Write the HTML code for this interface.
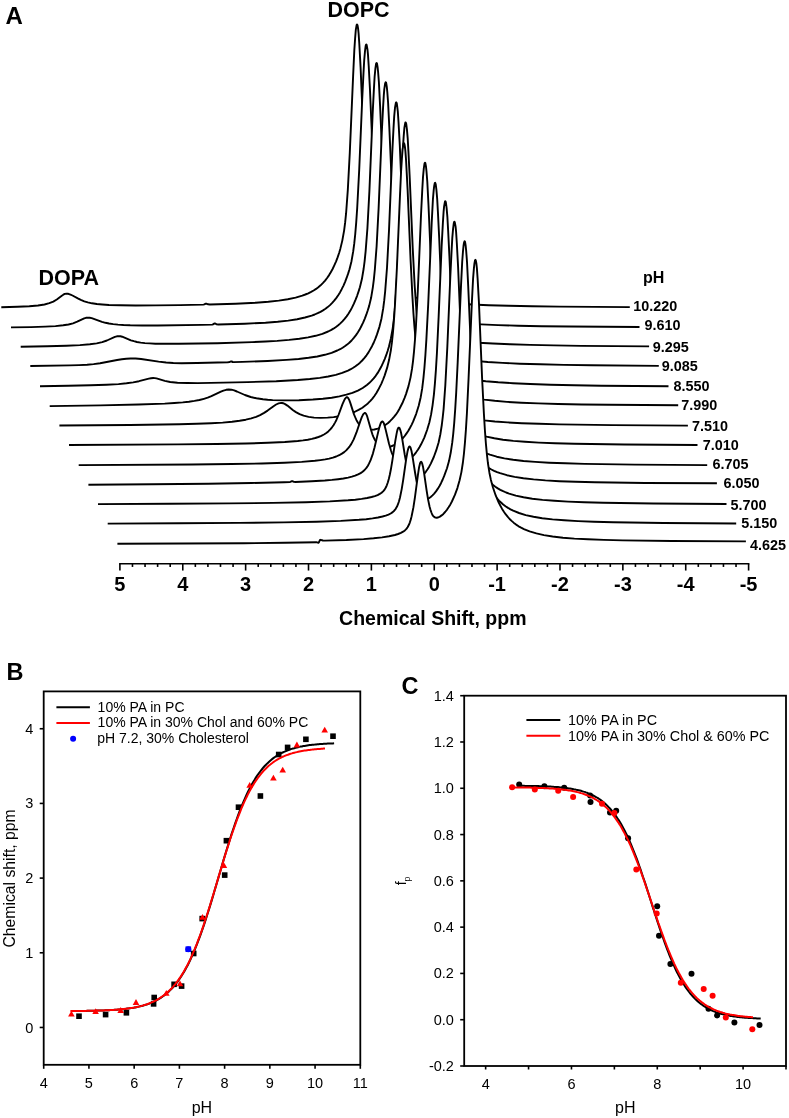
<!DOCTYPE html>
<html><head><meta charset="utf-8"><style>
html,body{margin:0;padding:0;background:#fff;width:789px;height:1118px;overflow:hidden;position:relative}
svg text{font-family:"Liberation Sans",sans-serif;fill:#000}
svg{will-change:transform}
</style></head><body>
<svg width="789" height="1118" viewBox="0 0 789 1118" style="position:absolute;left:0;top:0">
<rect width="789" height="1118" fill="#fff"/>
<path d="M1.3,308.2 L1.3,307.2 17.6,306.8 29.3,306.3 38.0,305.5 44.5,304.5 49.3,303.2 53.3,301.6 56.8,299.5 61.8,295.7 63.3,294.7 64.8,293.9 66.3,293.7 68.3,293.8 70.5,294.6 72.5,295.5 77.8,298.4 80.8,299.9 84.3,301.3 87.8,302.3 92.0,303.3 96.8,304.0 102.3,304.5 109.0,305.0 120.5,305.3 135.6,305.5 155.6,305.4 180.1,305.1 203.3,304.6 204.3,304.4 205.8,303.7 206.3,303.6 208.1,304.3 209.8,304.5 235.6,303.7 255.8,302.7 268.3,301.7 278.8,300.6 287.8,299.2 295.6,297.6 302.3,295.6 305.3,294.5 308.3,293.3 311.1,291.9 313.6,290.5 316.1,288.9 318.3,287.2 320.6,285.3 322.8,283.1 325.1,280.6 327.1,278.0 329.1,275.1 330.8,272.2 332.6,269.0 334.3,265.3 336.1,261.3 337.6,257.4 339.1,253.0 340.3,248.9 342.3,240.6 344.1,230.6 345.1,222.9 346.1,213.2 347.8,190.1 349.8,152.6 353.1,76.4 354.3,50.6 355.1,38.5 355.8,29.9 356.6,25.2 356.8,24.6 357.1,24.5 357.3,24.8 357.6,25.6 358.1,28.7 358.6,33.5 359.3,43.8 360.6,67.6 363.8,143.9 365.6,179.3 366.6,195.5 367.6,208.8 368.6,219.4 369.6,227.9 371.1,237.5 372.8,245.7 374.8,252.8 377.6,260.5 380.8,268.0 384.1,274.0 385.8,276.7 387.6,279.2 389.6,281.7 391.6,283.9 393.6,285.8 395.8,287.7 398.1,289.4 400.6,291.1 403.1,292.5 405.8,293.9 408.8,295.2 411.8,296.3 418.6,298.3 426.3,300.0 435.3,301.5 445.8,302.7 457.8,303.7 472.1,304.5 488.8,305.2 508.6,305.8 532.0,306.2 559.5,306.6 629.8,307.1 L629.8,308.2 Z" fill="#fff" stroke="none"/>
<polyline points="1.3,307.2 17.6,306.8 29.3,306.3 38.0,305.5 44.5,304.5 49.3,303.2 53.3,301.6 56.8,299.5 61.8,295.7 63.3,294.7 64.8,293.9 66.3,293.7 68.3,293.8 70.5,294.6 72.5,295.5 77.8,298.4 80.8,299.9 84.3,301.3 87.8,302.3 92.0,303.3 96.8,304.0 102.3,304.5 109.0,305.0 120.5,305.3 135.6,305.5 155.6,305.4 180.1,305.1 203.3,304.6 204.3,304.4 205.8,303.7 206.3,303.6 208.1,304.3 209.8,304.5 235.6,303.7 255.8,302.7 268.3,301.7 278.8,300.6 287.8,299.2 295.6,297.6 302.3,295.6 305.3,294.5 308.3,293.3 311.1,291.9 313.6,290.5 316.1,288.9 318.3,287.2 320.6,285.3 322.8,283.1 325.1,280.6 327.1,278.0 329.1,275.1 330.8,272.2 332.6,269.0 334.3,265.3 336.1,261.3 337.6,257.4 339.1,253.0 340.3,248.9 342.3,240.6 344.1,230.6 345.1,222.9 346.1,213.2 347.8,190.1 349.8,152.6 353.1,76.4 354.3,50.6 355.1,38.5 355.8,29.9 356.6,25.2 356.8,24.6 357.1,24.5 357.3,24.8 357.6,25.6 358.1,28.7 358.6,33.5 359.3,43.8 360.6,67.6 363.8,143.9 365.6,179.3 366.6,195.5 367.6,208.8 368.6,219.4 369.6,227.9 371.1,237.5 372.8,245.7 374.8,252.8 377.6,260.5 380.8,268.0 384.1,274.0 385.8,276.7 387.6,279.2 389.6,281.7 391.6,283.9 393.6,285.8 395.8,287.7 398.1,289.4 400.6,291.1 403.1,292.5 405.8,293.9 408.8,295.2 411.8,296.3 418.6,298.3 426.3,300.0 435.3,301.5 445.8,302.7 457.8,303.7 472.1,304.5 488.8,305.2 508.6,305.8 532.0,306.2 559.5,306.6 629.8,307.1" fill="none" stroke="#000" stroke-width="1.9" stroke-linejoin="round"/>
<path d="M11.0,327.9 L11.0,327.4 31.0,327.1 45.2,326.6 55.5,326.1 63.2,325.3 68.5,324.5 73.0,323.3 77.2,321.7 84.2,318.3 86.0,317.8 87.7,317.6 89.7,317.7 91.7,318.1 102.0,321.8 105.5,322.8 109.0,323.5 113.2,324.1 118.0,324.6 123.5,325.0 130.2,325.3 142.2,325.5 157.7,325.5 201.7,324.9 212.2,324.6 213.0,324.4 214.2,323.6 214.7,323.4 215.2,323.5 216.7,324.4 218.2,324.5 244.7,323.7 265.5,322.7 277.7,321.7 288.2,320.6 297.2,319.2 305.0,317.5 311.7,315.6 314.7,314.5 317.7,313.2 320.5,311.8 323.0,310.4 325.5,308.8 327.7,307.1 330.0,305.1 332.2,302.9 334.2,300.7 336.2,298.1 338.2,295.2 340.0,292.4 341.7,289.2 343.5,285.6 345.2,281.6 346.7,277.7 348.2,273.4 349.5,269.3 351.5,261.2 353.2,251.4 354.2,243.9 355.2,234.5 356.2,222.7 357.2,208.0 359.2,169.9 362.2,99.2 363.5,72.9 364.2,60.3 365.0,51.1 365.7,45.7 366.0,44.8 366.2,44.5 366.5,44.6 366.7,45.1 367.5,49.7 368.0,54.9 368.7,65.8 370.0,90.3 373.0,161.0 374.7,197.0 375.7,213.6 376.7,227.2 377.7,238.2 379.0,248.8 380.5,258.1 382.2,266.1 384.5,273.9 387.0,280.8 390.0,287.7 393.2,293.7 395.0,296.5 396.7,299.0 398.7,301.5 400.7,303.7 402.7,305.6 405.0,307.6 407.2,309.3 409.7,310.9 412.2,312.4 415.0,313.8 418.0,315.1 421.0,316.2 427.7,318.2 435.5,320.0 444.5,321.4 455.0,322.6 467.0,323.6 481.2,324.4 498.0,325.1 518.0,325.7 541.5,326.2 569.2,326.5 639.5,327.0 L639.5,327.9 Z" fill="#fff" stroke="none"/>
<polyline points="11.0,327.4 31.0,327.1 45.2,326.6 55.5,326.1 63.2,325.3 68.5,324.5 73.0,323.3 77.2,321.7 84.2,318.3 86.0,317.8 87.7,317.6 89.7,317.7 91.7,318.1 102.0,321.8 105.5,322.8 109.0,323.5 113.2,324.1 118.0,324.6 123.5,325.0 130.2,325.3 142.2,325.5 157.7,325.5 201.7,324.9 212.2,324.6 213.0,324.4 214.2,323.6 214.7,323.4 215.2,323.5 216.7,324.4 218.2,324.5 244.7,323.7 265.5,322.7 277.7,321.7 288.2,320.6 297.2,319.2 305.0,317.5 311.7,315.6 314.7,314.5 317.7,313.2 320.5,311.8 323.0,310.4 325.5,308.8 327.7,307.1 330.0,305.1 332.2,302.9 334.2,300.7 336.2,298.1 338.2,295.2 340.0,292.4 341.7,289.2 343.5,285.6 345.2,281.6 346.7,277.7 348.2,273.4 349.5,269.3 351.5,261.2 353.2,251.4 354.2,243.9 355.2,234.5 356.2,222.7 357.2,208.0 359.2,169.9 362.2,99.2 363.5,72.9 364.2,60.3 365.0,51.1 365.7,45.7 366.0,44.8 366.2,44.5 366.5,44.6 366.7,45.1 367.5,49.7 368.0,54.9 368.7,65.8 370.0,90.3 373.0,161.0 374.7,197.0 375.7,213.6 376.7,227.2 377.7,238.2 379.0,248.8 380.5,258.1 382.2,266.1 384.5,273.9 387.0,280.8 390.0,287.7 393.2,293.7 395.0,296.5 396.7,299.0 398.7,301.5 400.7,303.7 402.7,305.6 405.0,307.6 407.2,309.3 409.7,310.9 412.2,312.4 415.0,313.8 418.0,315.1 421.0,316.2 427.7,318.2 435.5,320.0 444.5,321.4 455.0,322.6 467.0,323.6 481.2,324.4 498.0,325.1 518.0,325.7 541.5,326.2 569.2,326.5 639.5,327.0" fill="none" stroke="#000" stroke-width="1.9" stroke-linejoin="round"/>
<path d="M20.7,347.6 L20.7,346.7 47.2,346.2 66.4,345.7 79.9,345.1 89.9,344.3 96.7,343.4 102.2,342.1 106.9,340.5 114.9,336.9 116.9,336.3 118.7,336.1 120.4,336.3 122.2,336.7 130.9,340.3 133.9,341.2 136.9,342.0 140.7,342.6 144.9,343.1 149.7,343.4 155.4,343.7 165.4,343.8 178.7,343.8 217.4,343.2 252.2,342.1 265.6,341.5 277.1,340.9 289.1,339.9 299.4,338.8 308.1,337.4 315.6,335.8 322.4,333.8 328.1,331.5 330.9,330.1 333.4,328.7 335.6,327.2 337.9,325.5 340.1,323.6 342.4,321.4 344.6,318.9 346.6,316.4 348.6,313.5 350.4,310.6 352.1,307.4 353.9,303.7 355.6,299.7 357.1,295.8 358.6,291.4 359.9,287.3 361.9,279.1 363.6,269.0 364.6,261.3 365.6,251.6 367.4,228.5 369.4,191.1 372.6,114.9 373.9,89.1 374.6,77.0 375.4,68.4 376.1,63.7 376.4,63.1 376.6,63.0 376.9,63.3 377.1,64.1 377.6,67.1 378.1,72.0 378.9,82.3 380.1,106.1 383.4,182.4 385.1,217.8 386.1,234.0 387.1,247.3 388.1,258.0 389.1,266.4 390.6,276.0 392.4,284.2 394.4,291.3 397.1,299.1 400.4,306.5 403.6,312.5 405.4,315.3 407.1,317.8 409.1,320.3 411.1,322.5 413.1,324.4 415.4,326.4 417.6,328.1 420.1,329.7 422.9,331.3 425.6,332.7 428.6,334.0 431.6,335.1 438.4,337.1 446.4,338.9 455.4,340.4 465.9,341.6 478.4,342.7 492.9,343.5 510.1,344.3 530.1,344.9 553.9,345.4 581.1,345.9 649.1,346.4 L649.1,347.6 Z" fill="#fff" stroke="none"/>
<polyline points="20.7,346.7 47.2,346.2 66.4,345.7 79.9,345.1 89.9,344.3 96.7,343.4 102.2,342.1 106.9,340.5 114.9,336.9 116.9,336.3 118.7,336.1 120.4,336.3 122.2,336.7 130.9,340.3 133.9,341.2 136.9,342.0 140.7,342.6 144.9,343.1 149.7,343.4 155.4,343.7 165.4,343.8 178.7,343.8 217.4,343.2 252.2,342.1 265.6,341.5 277.1,340.9 289.1,339.9 299.4,338.8 308.1,337.4 315.6,335.8 322.4,333.8 328.1,331.5 330.9,330.1 333.4,328.7 335.6,327.2 337.9,325.5 340.1,323.6 342.4,321.4 344.6,318.9 346.6,316.4 348.6,313.5 350.4,310.6 352.1,307.4 353.9,303.7 355.6,299.7 357.1,295.8 358.6,291.4 359.9,287.3 361.9,279.1 363.6,269.0 364.6,261.3 365.6,251.6 367.4,228.5 369.4,191.1 372.6,114.9 373.9,89.1 374.6,77.0 375.4,68.4 376.1,63.7 376.4,63.1 376.6,63.0 376.9,63.3 377.1,64.1 377.6,67.1 378.1,72.0 378.9,82.3 380.1,106.1 383.4,182.4 385.1,217.8 386.1,234.0 387.1,247.3 388.1,258.0 389.1,266.4 390.6,276.0 392.4,284.2 394.4,291.3 397.1,299.1 400.4,306.5 403.6,312.5 405.4,315.3 407.1,317.8 409.1,320.3 411.1,322.5 413.1,324.4 415.4,326.4 417.6,328.1 420.1,329.7 422.9,331.3 425.6,332.7 428.6,334.0 431.6,335.1 438.4,337.1 446.4,338.9 455.4,340.4 465.9,341.6 478.4,342.7 492.9,343.5 510.1,344.3 530.1,344.9 553.9,345.4 581.1,345.9 649.1,346.4" fill="none" stroke="#000" stroke-width="1.9" stroke-linejoin="round"/>
<path d="M30.3,367.3 L30.3,366.0 69.8,365.4 79.3,365.1 87.1,364.7 93.6,364.1 100.1,363.2 117.1,360.0 121.8,359.2 126.3,358.7 130.6,358.5 135.6,358.5 141.1,359.0 158.6,361.6 166.1,362.5 173.3,363.0 181.6,363.2 197.1,363.0 227.8,362.3 229.3,362.1 231.1,361.4 231.6,361.5 232.8,362.0 233.8,362.1 242.6,361.9 267.6,361.0 286.6,359.9 298.6,359.0 308.6,357.8 317.3,356.5 324.8,354.8 331.6,352.8 337.3,350.5 340.1,349.2 342.6,347.7 344.8,346.3 347.1,344.6 349.3,342.7 351.6,340.5 353.8,337.9 355.8,335.4 357.8,332.5 359.6,329.6 361.3,326.3 363.1,322.7 364.8,318.6 366.3,314.7 367.8,310.3 369.1,306.1 371.1,297.8 372.8,287.6 373.8,279.8 374.8,270.0 376.6,246.5 378.6,208.6 381.8,132.3 383.1,106.9 383.8,95.1 384.3,89.2 385.1,83.6 385.6,82.2 385.8,82.2 386.1,82.6 386.3,83.6 386.8,86.9 387.3,92.0 388.1,102.7 389.3,126.9 392.6,203.2 394.1,233.8 395.1,250.6 396.1,264.3 397.1,275.4 398.3,286.1 399.8,295.6 401.6,303.7 403.8,311.5 406.3,318.5 409.6,325.9 412.8,331.9 414.6,334.6 416.3,337.1 418.3,339.6 420.3,341.8 422.3,343.7 424.6,345.6 426.8,347.3 429.3,349.0 432.1,350.6 434.8,351.9 440.8,354.3 447.6,356.4 455.6,358.2 464.8,359.7 475.3,360.9 487.8,362.0 502.6,362.9 519.8,363.7 540.1,364.3 563.8,364.9 591.3,365.3 658.8,365.9 L658.8,367.3 Z" fill="#fff" stroke="none"/>
<polyline points="30.3,366.0 69.8,365.4 79.3,365.1 87.1,364.7 93.6,364.1 100.1,363.2 117.1,360.0 121.8,359.2 126.3,358.7 130.6,358.5 135.6,358.5 141.1,359.0 158.6,361.6 166.1,362.5 173.3,363.0 181.6,363.2 197.1,363.0 227.8,362.3 229.3,362.1 231.1,361.4 231.6,361.5 232.8,362.0 233.8,362.1 242.6,361.9 267.6,361.0 286.6,359.9 298.6,359.0 308.6,357.8 317.3,356.5 324.8,354.8 331.6,352.8 337.3,350.5 340.1,349.2 342.6,347.7 344.8,346.3 347.1,344.6 349.3,342.7 351.6,340.5 353.8,337.9 355.8,335.4 357.8,332.5 359.6,329.6 361.3,326.3 363.1,322.7 364.8,318.6 366.3,314.7 367.8,310.3 369.1,306.1 371.1,297.8 372.8,287.6 373.8,279.8 374.8,270.0 376.6,246.5 378.6,208.6 381.8,132.3 383.1,106.9 383.8,95.1 384.3,89.2 385.1,83.6 385.6,82.2 385.8,82.2 386.1,82.6 386.3,83.6 386.8,86.9 387.3,92.0 388.1,102.7 389.3,126.9 392.6,203.2 394.1,233.8 395.1,250.6 396.1,264.3 397.1,275.4 398.3,286.1 399.8,295.6 401.6,303.7 403.8,311.5 406.3,318.5 409.6,325.9 412.8,331.9 414.6,334.6 416.3,337.1 418.3,339.6 420.3,341.8 422.3,343.7 424.6,345.6 426.8,347.3 429.3,349.0 432.1,350.6 434.8,351.9 440.8,354.3 447.6,356.4 455.6,358.2 464.8,359.7 475.3,360.9 487.8,362.0 502.6,362.9 519.8,363.7 540.1,364.3 563.8,364.9 591.3,365.3 658.8,365.9" fill="none" stroke="#000" stroke-width="1.9" stroke-linejoin="round"/>
<path d="M40.0,387.0 L40.0,386.3 68.2,385.8 90.5,385.3 106.5,384.7 118.5,384.1 126.5,383.3 133.2,382.4 139.0,381.2 148.8,378.6 151.0,378.2 153.2,378.0 154.8,378.1 156.5,378.4 164.8,380.9 170.2,382.0 177.5,382.7 187.5,383.0 197.5,383.1 210.8,382.9 247.5,382.1 276.2,381.2 297.8,380.0 309.8,379.0 319.8,377.9 328.2,376.5 335.8,374.9 342.2,372.9 348.0,370.6 350.8,369.2 353.2,367.8 355.5,366.3 357.8,364.6 360.0,362.7 362.2,360.5 364.5,357.9 366.5,355.3 368.5,352.4 370.2,349.4 372.0,346.2 373.8,342.5 375.5,338.4 377.0,334.4 379.5,326.6 381.5,318.4 383.2,308.4 384.2,300.7 385.2,291.0 387.0,267.8 389.0,230.4 392.2,154.2 393.5,128.4 394.2,116.4 395.0,107.7 395.8,103.1 396.0,102.5 396.2,102.3 396.5,102.6 396.8,103.5 397.2,106.5 397.8,111.3 398.5,121.7 399.8,145.4 403.0,221.8 404.8,257.2 405.8,273.4 406.8,286.7 407.8,297.3 408.8,305.8 410.2,315.4 412.0,323.6 414.0,330.7 416.8,338.5 420.0,345.9 423.2,352.0 425.0,354.7 426.8,357.2 428.8,359.7 430.8,361.9 432.8,363.9 435.0,365.8 437.2,367.5 439.8,369.2 442.5,370.8 445.2,372.2 448.2,373.5 451.2,374.6 458.0,376.6 466.0,378.4 475.2,380.0 485.8,381.2 498.2,382.3 513.0,383.2 530.2,384.0 550.5,384.7 574.2,385.2 601.5,385.7 668.5,386.3 L668.5,387.0 Z" fill="#fff" stroke="none"/>
<polyline points="40.0,386.3 68.2,385.8 90.5,385.3 106.5,384.7 118.5,384.1 126.5,383.3 133.2,382.4 139.0,381.2 148.8,378.6 151.0,378.2 153.2,378.0 154.8,378.1 156.5,378.4 164.8,380.9 170.2,382.0 177.5,382.7 187.5,383.0 197.5,383.1 210.8,382.9 247.5,382.1 276.2,381.2 297.8,380.0 309.8,379.0 319.8,377.9 328.2,376.5 335.8,374.9 342.2,372.9 348.0,370.6 350.8,369.2 353.2,367.8 355.5,366.3 357.8,364.6 360.0,362.7 362.2,360.5 364.5,357.9 366.5,355.3 368.5,352.4 370.2,349.4 372.0,346.2 373.8,342.5 375.5,338.4 377.0,334.4 379.5,326.6 381.5,318.4 383.2,308.4 384.2,300.7 385.2,291.0 387.0,267.8 389.0,230.4 392.2,154.2 393.5,128.4 394.2,116.4 395.0,107.7 395.8,103.1 396.0,102.5 396.2,102.3 396.5,102.6 396.8,103.5 397.2,106.5 397.8,111.3 398.5,121.7 399.8,145.4 403.0,221.8 404.8,257.2 405.8,273.4 406.8,286.7 407.8,297.3 408.8,305.8 410.2,315.4 412.0,323.6 414.0,330.7 416.8,338.5 420.0,345.9 423.2,352.0 425.0,354.7 426.8,357.2 428.8,359.7 430.8,361.9 432.8,363.9 435.0,365.8 437.2,367.5 439.8,369.2 442.5,370.8 445.2,372.2 448.2,373.5 451.2,374.6 458.0,376.6 466.0,378.4 475.2,380.0 485.8,381.2 498.2,382.3 513.0,383.2 530.2,384.0 550.5,384.7 574.2,385.2 601.5,385.7 668.5,386.3" fill="none" stroke="#000" stroke-width="1.9" stroke-linejoin="round"/>
<path d="M49.7,406.7 L49.7,406.1 100.2,405.4 138.7,404.5 164.7,403.6 174.4,403.0 182.7,402.4 188.9,401.7 194.4,400.9 199.4,400.0 203.9,398.8 207.7,397.7 211.4,396.2 220.9,391.7 223.4,390.6 226.2,389.8 228.7,389.5 231.4,389.7 234.2,390.4 236.9,391.5 244.9,395.0 250.7,397.0 256.4,398.3 262.9,399.3 267.7,399.8 272.7,400.1 284.7,400.4 298.9,400.2 312.9,399.5 322.9,398.7 331.7,397.7 339.4,396.4 346.4,394.7 352.4,392.9 357.9,390.6 362.7,388.0 366.9,385.0 369.2,383.1 371.4,380.9 373.7,378.4 375.7,375.8 377.7,372.9 379.4,370.0 381.2,366.8 382.9,363.2 384.7,359.1 386.2,355.2 387.7,350.8 388.9,346.7 390.9,338.4 392.7,328.3 393.7,320.6 394.7,310.9 396.4,287.6 398.4,250.0 401.7,173.8 402.9,148.1 403.7,136.1 404.4,127.6 405.2,123.1 405.4,122.5 405.7,122.4 405.9,122.8 406.2,123.7 406.9,129.1 407.7,138.3 408.4,150.9 409.7,177.3 412.7,247.9 414.7,286.2 416.4,309.9 417.2,317.6 418.2,326.1 419.7,335.6 421.4,343.8 423.4,350.8 426.2,358.6 429.4,366.0 432.7,372.0 434.4,374.8 436.2,377.2 438.2,379.7 440.2,381.9 442.2,383.9 444.4,385.8 446.7,387.5 449.2,389.1 451.7,390.6 454.4,391.9 457.4,393.2 460.4,394.4 467.2,396.4 475.2,398.2 484.2,399.6 494.7,400.8 506.9,401.9 521.2,402.7 538.2,403.4 558.2,404.0 581.7,404.5 609.2,404.8 678.2,405.3 L678.2,406.7 Z" fill="#fff" stroke="none"/>
<polyline points="49.7,406.1 100.2,405.4 138.7,404.5 164.7,403.6 174.4,403.0 182.7,402.4 188.9,401.7 194.4,400.9 199.4,400.0 203.9,398.8 207.7,397.7 211.4,396.2 220.9,391.7 223.4,390.6 226.2,389.8 228.7,389.5 231.4,389.7 234.2,390.4 236.9,391.5 244.9,395.0 250.7,397.0 256.4,398.3 262.9,399.3 267.7,399.8 272.7,400.1 284.7,400.4 298.9,400.2 312.9,399.5 322.9,398.7 331.7,397.7 339.4,396.4 346.4,394.7 352.4,392.9 357.9,390.6 362.7,388.0 366.9,385.0 369.2,383.1 371.4,380.9 373.7,378.4 375.7,375.8 377.7,372.9 379.4,370.0 381.2,366.8 382.9,363.2 384.7,359.1 386.2,355.2 387.7,350.8 388.9,346.7 390.9,338.4 392.7,328.3 393.7,320.6 394.7,310.9 396.4,287.6 398.4,250.0 401.7,173.8 402.9,148.1 403.7,136.1 404.4,127.6 405.2,123.1 405.4,122.5 405.7,122.4 405.9,122.8 406.2,123.7 406.9,129.1 407.7,138.3 408.4,150.9 409.7,177.3 412.7,247.9 414.7,286.2 416.4,309.9 417.2,317.6 418.2,326.1 419.7,335.6 421.4,343.8 423.4,350.8 426.2,358.6 429.4,366.0 432.7,372.0 434.4,374.8 436.2,377.2 438.2,379.7 440.2,381.9 442.2,383.9 444.4,385.8 446.7,387.5 449.2,389.1 451.7,390.6 454.4,391.9 457.4,393.2 460.4,394.4 467.2,396.4 475.2,398.2 484.2,399.6 494.7,400.8 506.9,401.9 521.2,402.7 538.2,403.4 558.2,404.0 581.7,404.5 609.2,404.8 678.2,405.3" fill="none" stroke="#000" stroke-width="1.9" stroke-linejoin="round"/>
<path d="M59.4,426.4 L59.4,425.5 129.8,425.0 179.3,424.2 196.8,423.7 211.1,423.2 222.6,422.6 232.1,421.8 239.6,420.8 245.8,419.7 251.3,418.4 256.1,416.8 260.1,415.1 264.1,412.9 267.6,410.6 273.9,406.0 276.1,404.5 278.6,403.4 279.9,403.1 281.1,402.9 282.1,403.0 283.1,403.2 285.1,404.1 287.4,405.6 293.1,410.2 295.9,412.1 299.6,414.1 303.6,415.7 308.6,416.9 314.1,417.6 320.6,417.9 327.6,417.6 333.6,417.1 339.4,416.2 344.9,415.0 349.9,413.6 354.4,412.0 358.6,409.9 362.4,407.7 365.9,405.1 368.1,403.2 370.4,400.9 372.4,398.6 374.4,396.0 376.4,393.0 378.1,390.1 381.4,383.6 383.1,379.5 384.6,375.6 387.1,367.9 389.1,359.8 390.9,350.0 391.9,342.4 392.9,333.0 393.9,321.1 394.9,306.3 396.9,268.0 399.9,197.4 401.1,171.1 401.9,158.7 402.6,149.5 403.4,144.3 403.6,143.5 403.9,143.2 404.1,143.3 404.4,144.0 404.9,146.6 405.4,151.1 406.1,160.9 407.6,189.6 410.6,260.3 412.4,296.2 413.4,312.7 414.4,326.3 415.4,337.2 416.6,347.7 418.1,357.0 419.9,365.0 422.1,372.7 424.9,380.2 428.1,387.5 431.4,393.3 433.1,396.0 435.1,398.7 437.1,401.1 439.1,403.2 441.1,405.1 443.4,406.9 445.9,408.7 448.4,410.3 451.1,411.8 453.9,413.1 459.9,415.4 466.9,417.3 474.9,419.0 484.1,420.4 494.9,421.5 507.4,422.4 521.9,423.2 539.1,423.8 559.4,424.4 612.4,425.1 687.9,425.6 L687.9,426.4 Z" fill="#fff" stroke="none"/>
<polyline points="59.4,425.5 129.8,425.0 179.3,424.2 196.8,423.7 211.1,423.2 222.6,422.6 232.1,421.8 239.6,420.8 245.8,419.7 251.3,418.4 256.1,416.8 260.1,415.1 264.1,412.9 267.6,410.6 273.9,406.0 276.1,404.5 278.6,403.4 279.9,403.1 281.1,402.9 282.1,403.0 283.1,403.2 285.1,404.1 287.4,405.6 293.1,410.2 295.9,412.1 299.6,414.1 303.6,415.7 308.6,416.9 314.1,417.6 320.6,417.9 327.6,417.6 333.6,417.1 339.4,416.2 344.9,415.0 349.9,413.6 354.4,412.0 358.6,409.9 362.4,407.7 365.9,405.1 368.1,403.2 370.4,400.9 372.4,398.6 374.4,396.0 376.4,393.0 378.1,390.1 381.4,383.6 383.1,379.5 384.6,375.6 387.1,367.9 389.1,359.8 390.9,350.0 391.9,342.4 392.9,333.0 393.9,321.1 394.9,306.3 396.9,268.0 399.9,197.4 401.1,171.1 401.9,158.7 402.6,149.5 403.4,144.3 403.6,143.5 403.9,143.2 404.1,143.3 404.4,144.0 404.9,146.6 405.4,151.1 406.1,160.9 407.6,189.6 410.6,260.3 412.4,296.2 413.4,312.7 414.4,326.3 415.4,337.2 416.6,347.7 418.1,357.0 419.9,365.0 422.1,372.7 424.9,380.2 428.1,387.5 431.4,393.3 433.1,396.0 435.1,398.7 437.1,401.1 439.1,403.2 441.1,405.1 443.4,406.9 445.9,408.7 448.4,410.3 451.1,411.8 453.9,413.1 459.9,415.4 466.9,417.3 474.9,419.0 484.1,420.4 494.9,421.5 507.4,422.4 521.9,423.2 539.1,423.8 559.4,424.4 612.4,425.1 687.9,425.6" fill="none" stroke="#000" stroke-width="1.9" stroke-linejoin="round"/>
<path d="M69.0,446.1 L69.0,445.0 177.8,444.4 216.5,444.0 246.0,443.5 268.0,442.8 284.8,442.0 297.8,441.0 303.0,440.4 307.8,439.7 311.8,438.9 315.3,438.0 318.5,437.0 321.3,435.9 324.0,434.5 326.3,433.0 328.3,431.4 330.3,429.4 332.0,427.3 333.5,425.2 335.0,422.6 336.3,420.2 338.5,415.0 342.5,404.2 344.3,400.1 345.0,398.8 345.8,397.9 346.5,397.3 347.0,397.2 347.5,397.4 348.0,397.9 348.5,398.6 349.3,400.2 350.3,402.9 354.0,414.4 355.3,417.5 356.5,420.2 358.0,422.8 359.5,424.9 361.0,426.4 362.8,427.8 365.3,429.0 368.0,429.7 371.0,429.9 374.3,429.5 377.8,428.6 381.3,427.3 384.5,425.5 387.8,423.2 390.0,421.2 392.0,419.2 394.0,416.9 395.8,414.7 397.8,411.7 399.5,408.7 402.8,402.2 404.5,398.1 406.0,394.1 408.5,386.1 410.5,377.6 412.0,368.9 413.0,361.3 414.0,351.6 415.0,339.5 415.8,328.6 417.8,291.3 421.0,215.2 422.3,189.3 423.0,177.1 423.8,168.4 424.5,163.6 424.8,162.9 425.0,162.7 425.3,163.0 425.5,163.8 426.0,166.7 426.5,171.5 427.3,181.7 428.5,205.3 431.8,281.6 433.5,317.2 434.5,333.5 435.5,346.8 436.5,357.5 437.5,366.0 439.0,375.7 440.8,383.9 442.8,391.0 445.5,398.8 448.8,406.3 452.0,412.3 453.8,415.0 455.5,417.5 457.5,420.0 459.5,422.2 461.5,424.1 463.8,426.1 466.0,427.8 468.5,429.4 471.0,430.8 473.8,432.2 476.8,433.5 479.8,434.6 486.5,436.6 494.3,438.3 503.0,439.7 513.3,440.9 525.0,441.8 538.8,442.6 555.0,443.2 574.3,443.8 624.5,444.5 697.5,445.0 L697.5,446.1 Z" fill="#fff" stroke="none"/>
<polyline points="69.0,445.0 177.8,444.4 216.5,444.0 246.0,443.5 268.0,442.8 284.8,442.0 297.8,441.0 303.0,440.4 307.8,439.7 311.8,438.9 315.3,438.0 318.5,437.0 321.3,435.9 324.0,434.5 326.3,433.0 328.3,431.4 330.3,429.4 332.0,427.3 333.5,425.2 335.0,422.6 336.3,420.2 338.5,415.0 342.5,404.2 344.3,400.1 345.0,398.8 345.8,397.9 346.5,397.3 347.0,397.2 347.5,397.4 348.0,397.9 348.5,398.6 349.3,400.2 350.3,402.9 354.0,414.4 355.3,417.5 356.5,420.2 358.0,422.8 359.5,424.9 361.0,426.4 362.8,427.8 365.3,429.0 368.0,429.7 371.0,429.9 374.3,429.5 377.8,428.6 381.3,427.3 384.5,425.5 387.8,423.2 390.0,421.2 392.0,419.2 394.0,416.9 395.8,414.7 397.8,411.7 399.5,408.7 402.8,402.2 404.5,398.1 406.0,394.1 408.5,386.1 410.5,377.6 412.0,368.9 413.0,361.3 414.0,351.6 415.0,339.5 415.8,328.6 417.8,291.3 421.0,215.2 422.3,189.3 423.0,177.1 423.8,168.4 424.5,163.6 424.8,162.9 425.0,162.7 425.3,163.0 425.5,163.8 426.0,166.7 426.5,171.5 427.3,181.7 428.5,205.3 431.8,281.6 433.5,317.2 434.5,333.5 435.5,346.8 436.5,357.5 437.5,366.0 439.0,375.7 440.8,383.9 442.8,391.0 445.5,398.8 448.8,406.3 452.0,412.3 453.8,415.0 455.5,417.5 457.5,420.0 459.5,422.2 461.5,424.1 463.8,426.1 466.0,427.8 468.5,429.4 471.0,430.8 473.8,432.2 476.8,433.5 479.8,434.6 486.5,436.6 494.3,438.3 503.0,439.7 513.3,440.9 525.0,441.8 538.8,442.6 555.0,443.2 574.3,443.8 624.5,444.5 697.5,445.0" fill="none" stroke="#000" stroke-width="1.9" stroke-linejoin="round"/>
<path d="M78.7,465.8 L78.7,465.1 191.7,464.5 231.7,464.0 261.9,463.5 284.4,462.8 301.7,461.9 314.9,460.8 320.4,460.1 325.2,459.4 329.2,458.6 332.9,457.6 336.2,456.5 339.2,455.2 341.9,453.6 344.2,452.1 346.2,450.4 348.2,448.2 349.7,446.3 351.2,444.1 353.7,439.4 356.4,432.7 360.4,420.9 361.9,416.9 362.7,415.3 363.4,414.1 364.2,413.3 364.9,412.9 365.4,413.1 365.9,413.6 366.4,414.5 367.2,416.4 371.2,430.5 372.4,434.3 373.4,436.9 374.7,439.5 375.9,441.6 377.2,443.3 378.7,444.8 380.7,446.1 382.7,446.9 385.2,447.3 387.7,447.2 390.4,446.6 393.2,445.5 395.9,444.0 398.7,442.0 400.7,440.3 402.7,438.3 404.7,436.0 406.4,433.6 408.2,431.0 409.9,428.0 411.7,424.6 413.2,421.4 416.2,413.8 418.7,405.8 420.7,397.2 422.2,388.4 423.4,378.4 424.4,368.0 425.4,355.0 426.4,339.1 428.2,304.3 431.7,222.6 432.9,199.7 433.7,190.2 434.2,185.9 434.7,183.4 434.9,182.9 435.2,182.8 435.4,183.3 435.7,184.2 436.4,189.7 437.2,199.1 437.9,211.8 439.2,238.2 442.2,308.9 444.2,347.0 445.9,370.6 446.7,378.3 447.7,386.7 449.2,396.2 450.9,404.3 453.2,412.1 455.7,419.1 458.9,426.5 462.2,432.5 463.9,435.2 465.7,437.7 467.7,440.2 469.7,442.4 471.7,444.3 473.9,446.2 476.2,447.9 478.7,449.5 481.2,451.0 483.9,452.3 486.9,453.6 489.9,454.7 496.7,456.7 504.4,458.4 513.2,459.8 523.5,461.0 535.2,461.9 549.0,462.7 565.2,463.3 584.5,463.9 634.7,464.6 707.2,465.1 L707.2,465.8 Z" fill="#fff" stroke="none"/>
<polyline points="78.7,465.1 191.7,464.5 231.7,464.0 261.9,463.5 284.4,462.8 301.7,461.9 314.9,460.8 320.4,460.1 325.2,459.4 329.2,458.6 332.9,457.6 336.2,456.5 339.2,455.2 341.9,453.6 344.2,452.1 346.2,450.4 348.2,448.2 349.7,446.3 351.2,444.1 353.7,439.4 356.4,432.7 360.4,420.9 361.9,416.9 362.7,415.3 363.4,414.1 364.2,413.3 364.9,412.9 365.4,413.1 365.9,413.6 366.4,414.5 367.2,416.4 371.2,430.5 372.4,434.3 373.4,436.9 374.7,439.5 375.9,441.6 377.2,443.3 378.7,444.8 380.7,446.1 382.7,446.9 385.2,447.3 387.7,447.2 390.4,446.6 393.2,445.5 395.9,444.0 398.7,442.0 400.7,440.3 402.7,438.3 404.7,436.0 406.4,433.6 408.2,431.0 409.9,428.0 411.7,424.6 413.2,421.4 416.2,413.8 418.7,405.8 420.7,397.2 422.2,388.4 423.4,378.4 424.4,368.0 425.4,355.0 426.4,339.1 428.2,304.3 431.7,222.6 432.9,199.7 433.7,190.2 434.2,185.9 434.7,183.4 434.9,182.9 435.2,182.8 435.4,183.3 435.7,184.2 436.4,189.7 437.2,199.1 437.9,211.8 439.2,238.2 442.2,308.9 444.2,347.0 445.9,370.6 446.7,378.3 447.7,386.7 449.2,396.2 450.9,404.3 453.2,412.1 455.7,419.1 458.9,426.5 462.2,432.5 463.9,435.2 465.7,437.7 467.7,440.2 469.7,442.4 471.7,444.3 473.9,446.2 476.2,447.9 478.7,449.5 481.2,451.0 483.9,452.3 486.9,453.6 489.9,454.7 496.7,456.7 504.4,458.4 513.2,459.8 523.5,461.0 535.2,461.9 549.0,462.7 565.2,463.3 584.5,463.9 634.7,464.6 707.2,465.1" fill="none" stroke="#000" stroke-width="1.9" stroke-linejoin="round"/>
<path d="M88.4,485.5 L88.4,484.8 151.9,484.3 208.1,483.7 251.6,483.0 284.1,482.3 289.6,482.1 290.4,481.9 291.9,481.2 292.4,481.2 293.9,481.9 295.4,482.0 311.6,481.3 324.9,480.5 331.9,479.9 338.1,479.2 343.4,478.5 348.1,477.6 351.9,476.7 355.1,475.7 358.1,474.4 360.6,473.1 362.6,471.7 364.6,470.0 366.4,467.9 367.9,465.7 369.1,463.4 370.4,460.7 371.6,457.4 372.9,453.6 374.6,447.2 378.4,431.1 379.9,425.6 380.6,423.5 381.1,422.5 381.9,421.6 382.4,421.4 382.9,421.7 383.4,422.4 383.9,423.4 384.6,425.6 385.6,429.4 388.9,443.3 390.9,450.3 391.9,453.1 392.9,455.4 393.9,457.3 394.9,458.8 396.4,460.5 397.9,461.5 399.6,462.1 401.4,462.3 403.4,462.0 405.6,461.3 407.9,460.1 410.4,458.4 412.4,456.6 414.1,454.8 416.1,452.3 417.9,449.8 419.6,447.0 421.1,444.3 422.9,440.7 424.4,437.3 427.1,430.0 429.4,422.3 431.1,414.4 432.6,405.1 433.9,394.6 434.9,383.7 435.9,370.1 436.9,353.5 438.6,317.6 441.6,247.0 442.9,222.6 443.6,211.7 444.1,206.4 444.9,201.9 445.1,201.3 445.4,201.3 445.6,201.6 445.9,202.5 446.6,207.9 447.4,217.2 448.1,229.7 449.4,256.1 452.4,326.8 454.4,365.0 456.1,388.8 456.9,396.6 457.9,405.0 459.4,414.5 461.1,422.7 463.4,430.5 465.9,437.5 469.1,444.9 472.4,450.9 474.1,453.7 475.9,456.1 477.9,458.6 479.9,460.8 481.9,462.8 484.1,464.7 486.4,466.4 488.9,468.0 491.4,469.5 494.1,470.8 497.1,472.1 500.1,473.2 506.9,475.2 514.6,476.9 523.4,478.3 533.6,479.4 545.4,480.4 559.4,481.2 575.6,481.8 594.9,482.3 645.1,483.0 716.9,483.3 L716.9,485.5 Z" fill="#fff" stroke="none"/>
<polyline points="88.4,484.8 151.9,484.3 208.1,483.7 251.6,483.0 284.1,482.3 289.6,482.1 290.4,481.9 291.9,481.2 292.4,481.2 293.9,481.9 295.4,482.0 311.6,481.3 324.9,480.5 331.9,479.9 338.1,479.2 343.4,478.5 348.1,477.6 351.9,476.7 355.1,475.7 358.1,474.4 360.6,473.1 362.6,471.7 364.6,470.0 366.4,467.9 367.9,465.7 369.1,463.4 370.4,460.7 371.6,457.4 372.9,453.6 374.6,447.2 378.4,431.1 379.9,425.6 380.6,423.5 381.1,422.5 381.9,421.6 382.4,421.4 382.9,421.7 383.4,422.4 383.9,423.4 384.6,425.6 385.6,429.4 388.9,443.3 390.9,450.3 391.9,453.1 392.9,455.4 393.9,457.3 394.9,458.8 396.4,460.5 397.9,461.5 399.6,462.1 401.4,462.3 403.4,462.0 405.6,461.3 407.9,460.1 410.4,458.4 412.4,456.6 414.1,454.8 416.1,452.3 417.9,449.8 419.6,447.0 421.1,444.3 422.9,440.7 424.4,437.3 427.1,430.0 429.4,422.3 431.1,414.4 432.6,405.1 433.9,394.6 434.9,383.7 435.9,370.1 436.9,353.5 438.6,317.6 441.6,247.0 442.9,222.6 443.6,211.7 444.1,206.4 444.9,201.9 445.1,201.3 445.4,201.3 445.6,201.6 445.9,202.5 446.6,207.9 447.4,217.2 448.1,229.7 449.4,256.1 452.4,326.8 454.4,365.0 456.1,388.8 456.9,396.6 457.9,405.0 459.4,414.5 461.1,422.7 463.4,430.5 465.9,437.5 469.1,444.9 472.4,450.9 474.1,453.7 475.9,456.1 477.9,458.6 479.9,460.8 481.9,462.8 484.1,464.7 486.4,466.4 488.9,468.0 491.4,469.5 494.1,470.8 497.1,472.1 500.1,473.2 506.9,475.2 514.6,476.9 523.4,478.3 533.6,479.4 545.4,480.4 559.4,481.2 575.6,481.8 594.9,482.3 645.1,483.0 716.9,483.3" fill="none" stroke="#000" stroke-width="1.9" stroke-linejoin="round"/>
<path d="M98.0,505.2 L98.0,504.1 169.8,503.8 229.1,503.4 273.1,502.9 305.8,502.2 329.8,501.4 348.1,500.3 355.3,499.7 361.6,498.9 367.1,498.0 371.6,497.0 374.8,496.1 377.6,495.1 379.8,493.9 381.6,492.8 383.1,491.4 384.6,489.6 385.8,487.5 386.8,485.3 387.8,482.5 388.8,479.0 389.8,474.8 390.8,469.8 392.3,460.9 395.3,440.8 396.6,433.6 397.3,430.4 397.8,428.9 398.3,427.9 398.8,427.6 399.3,427.8 399.8,428.7 400.3,430.1 401.1,433.0 402.1,438.2 404.8,455.0 406.3,463.1 407.8,469.6 408.6,472.1 409.6,474.9 410.6,476.9 411.6,478.3 412.8,479.4 414.1,479.9 415.6,480.0 417.1,479.6 418.8,478.7 420.6,477.5 422.3,475.9 424.1,474.0 425.8,471.8 427.6,469.3 429.3,466.4 430.8,463.6 433.8,457.0 436.3,450.2 438.6,442.5 440.3,434.5 441.8,425.0 442.8,416.7 443.6,409.1 445.3,385.5 447.3,347.5 450.3,277.0 451.6,250.6 452.3,237.9 453.1,228.6 453.8,223.1 454.1,222.2 454.3,221.7 454.6,221.8 454.8,222.3 455.6,226.7 456.1,231.9 456.8,242.7 458.1,267.0 461.3,343.4 462.8,373.9 463.8,390.6 464.8,404.3 465.8,415.3 467.1,426.0 468.6,435.4 470.3,443.4 472.6,451.2 475.1,458.2 478.1,465.0 481.3,471.1 483.1,473.9 484.8,476.4 486.8,478.9 488.8,481.1 490.8,483.1 493.1,485.0 495.3,486.7 497.8,488.4 500.3,489.8 503.1,491.2 506.1,492.5 509.1,493.6 515.8,495.6 523.5,497.3 532.3,498.7 542.5,499.9 554.3,500.8 568.0,501.6 584.3,502.3 603.3,502.8 653.5,503.5 726.5,504.0 L726.5,505.2 Z" fill="#fff" stroke="none"/>
<polyline points="98.0,504.1 169.8,503.8 229.1,503.4 273.1,502.9 305.8,502.2 329.8,501.4 348.1,500.3 355.3,499.7 361.6,498.9 367.1,498.0 371.6,497.0 374.8,496.1 377.6,495.1 379.8,493.9 381.6,492.8 383.1,491.4 384.6,489.6 385.8,487.5 386.8,485.3 387.8,482.5 388.8,479.0 389.8,474.8 390.8,469.8 392.3,460.9 395.3,440.8 396.6,433.6 397.3,430.4 397.8,428.9 398.3,427.9 398.8,427.6 399.3,427.8 399.8,428.7 400.3,430.1 401.1,433.0 402.1,438.2 404.8,455.0 406.3,463.1 407.8,469.6 408.6,472.1 409.6,474.9 410.6,476.9 411.6,478.3 412.8,479.4 414.1,479.9 415.6,480.0 417.1,479.6 418.8,478.7 420.6,477.5 422.3,475.9 424.1,474.0 425.8,471.8 427.6,469.3 429.3,466.4 430.8,463.6 433.8,457.0 436.3,450.2 438.6,442.5 440.3,434.5 441.8,425.0 442.8,416.7 443.6,409.1 445.3,385.5 447.3,347.5 450.3,277.0 451.6,250.6 452.3,237.9 453.1,228.6 453.8,223.1 454.1,222.2 454.3,221.7 454.6,221.8 454.8,222.3 455.6,226.7 456.1,231.9 456.8,242.7 458.1,267.0 461.3,343.4 462.8,373.9 463.8,390.6 464.8,404.3 465.8,415.3 467.1,426.0 468.6,435.4 470.3,443.4 472.6,451.2 475.1,458.2 478.1,465.0 481.3,471.1 483.1,473.9 484.8,476.4 486.8,478.9 488.8,481.1 490.8,483.1 493.1,485.0 495.3,486.7 497.8,488.4 500.3,489.8 503.1,491.2 506.1,492.5 509.1,493.6 515.8,495.6 523.5,497.3 532.3,498.7 542.5,499.9 554.3,500.8 568.0,501.6 584.3,502.3 603.3,502.8 653.5,503.5 726.5,504.0" fill="none" stroke="#000" stroke-width="1.9" stroke-linejoin="round"/>
<path d="M107.7,524.9 L107.7,523.6 179.7,523.3 239.5,522.9 283.7,522.4 316.5,521.7 340.7,520.9 359.0,519.8 366.2,519.2 372.5,518.4 378.0,517.5 382.5,516.5 385.7,515.6 388.5,514.6 390.7,513.5 392.7,512.1 394.2,510.7 395.7,508.8 397.0,506.6 398.0,504.2 399.0,501.3 400.0,497.5 401.7,489.1 403.2,479.8 406.2,458.9 407.5,451.6 408.5,447.8 409.0,446.8 409.5,446.4 410.0,446.7 410.5,447.5 411.5,451.0 412.7,457.7 415.2,473.5 416.7,482.1 418.2,488.8 419.0,491.5 420.0,494.3 421.0,496.4 422.0,497.8 423.0,498.8 424.2,499.4 425.7,499.5 427.2,499.1 429.0,498.2 430.7,497.0 432.5,495.4 434.2,493.6 436.0,491.4 437.7,488.9 439.5,486.0 441.0,483.2 442.7,479.5 444.2,475.9 447.0,468.2 449.0,461.1 450.7,452.8 452.2,442.9 453.2,434.1 454.2,423.1 455.2,409.3 456.2,392.6 457.7,362.1 461.0,285.9 462.2,261.7 463.0,251.1 463.5,246.0 464.0,242.7 464.5,241.3 464.7,241.3 465.0,241.8 465.2,242.7 465.7,246.0 466.2,251.1 467.0,261.8 468.2,286.0 471.5,362.4 473.0,393.0 474.0,409.7 475.0,423.5 476.0,434.6 477.2,445.3 478.7,454.8 480.5,462.8 482.7,470.7 485.2,477.6 488.2,484.5 491.5,490.6 493.2,493.4 495.0,495.8 497.0,498.4 499.0,500.6 501.0,502.5 503.2,504.5 505.5,506.2 508.0,507.9 510.5,509.3 513.2,510.7 519.0,513.0 525.7,515.1 533.5,516.8 542.2,518.2 552.5,519.4 564.2,520.3 578.0,521.1 594.0,521.8 613.2,522.3 663.5,523.0 736.2,523.5 L736.2,524.9 Z" fill="#fff" stroke="none"/>
<polyline points="107.7,523.6 179.7,523.3 239.5,522.9 283.7,522.4 316.5,521.7 340.7,520.9 359.0,519.8 366.2,519.2 372.5,518.4 378.0,517.5 382.5,516.5 385.7,515.6 388.5,514.6 390.7,513.5 392.7,512.1 394.2,510.7 395.7,508.8 397.0,506.6 398.0,504.2 399.0,501.3 400.0,497.5 401.7,489.1 403.2,479.8 406.2,458.9 407.5,451.6 408.5,447.8 409.0,446.8 409.5,446.4 410.0,446.7 410.5,447.5 411.5,451.0 412.7,457.7 415.2,473.5 416.7,482.1 418.2,488.8 419.0,491.5 420.0,494.3 421.0,496.4 422.0,497.8 423.0,498.8 424.2,499.4 425.7,499.5 427.2,499.1 429.0,498.2 430.7,497.0 432.5,495.4 434.2,493.6 436.0,491.4 437.7,488.9 439.5,486.0 441.0,483.2 442.7,479.5 444.2,475.9 447.0,468.2 449.0,461.1 450.7,452.8 452.2,442.9 453.2,434.1 454.2,423.1 455.2,409.3 456.2,392.6 457.7,362.1 461.0,285.9 462.2,261.7 463.0,251.1 463.5,246.0 464.0,242.7 464.5,241.3 464.7,241.3 465.0,241.8 465.2,242.7 465.7,246.0 466.2,251.1 467.0,261.8 468.2,286.0 471.5,362.4 473.0,393.0 474.0,409.7 475.0,423.5 476.0,434.6 477.2,445.3 478.7,454.8 480.5,462.8 482.7,470.7 485.2,477.6 488.2,484.5 491.5,490.6 493.2,493.4 495.0,495.8 497.0,498.4 499.0,500.6 501.0,502.5 503.2,504.5 505.5,506.2 508.0,507.9 510.5,509.3 513.2,510.7 519.0,513.0 525.7,515.1 533.5,516.8 542.2,518.2 552.5,519.4 564.2,520.3 578.0,521.1 594.0,521.8 613.2,522.3 663.5,523.0 736.2,523.5" fill="none" stroke="#000" stroke-width="1.9" stroke-linejoin="round"/>
<path d="M117.4,544.6 L117.4,543.7 243.9,543.2 284.9,542.8 316.4,542.3 317.1,542.4 318.4,542.8 318.9,542.3 319.9,540.2 320.1,540.0 320.6,539.8 322.9,540.5 324.9,540.6 346.4,540.0 363.6,539.1 373.6,538.3 382.1,537.4 389.1,536.3 394.9,535.0 398.1,534.0 400.9,532.9 403.1,531.7 404.9,530.4 406.4,528.9 407.6,527.2 408.9,524.8 409.9,522.3 410.9,519.1 411.6,516.2 413.4,507.4 414.9,497.6 417.9,475.0 419.1,467.2 420.1,463.1 420.6,462.1 421.1,461.8 421.6,462.2 422.1,463.3 423.1,467.3 424.1,473.2 426.6,490.3 428.1,499.6 429.6,506.8 430.4,509.6 431.4,512.5 432.1,514.2 433.1,515.9 434.1,516.9 435.4,517.6 436.6,517.7 438.1,517.5 439.9,516.6 441.6,515.4 443.4,513.9 445.1,512.0 446.9,509.8 448.6,507.3 450.4,504.4 451.9,501.5 454.9,494.9 457.4,488.1 459.6,480.3 461.4,472.1 462.9,462.5 463.9,454.0 464.9,443.2 465.9,429.9 466.9,413.5 468.6,377.9 471.9,301.8 473.1,278.3 473.9,268.3 474.4,263.6 474.9,260.8 475.1,260.1 475.4,259.8 475.6,260.1 475.9,260.8 476.4,263.7 476.9,268.3 477.6,278.4 478.9,301.9 482.1,378.2 483.9,413.8 484.9,430.2 485.9,443.6 486.9,454.4 487.9,463.0 489.4,472.7 490.9,479.9 492.9,487.2 495.6,495.2 498.6,502.3 500.4,505.8 502.1,508.9 503.9,511.7 505.6,514.2 507.6,516.7 509.6,519.0 511.6,520.9 513.9,522.9 516.1,524.6 518.6,526.3 521.1,527.7 523.9,529.1 529.6,531.4 536.4,533.4 543.9,535.1 552.6,536.5 562.9,537.7 574.4,538.6 587.9,539.3 603.9,539.9 622.6,540.4 672.1,541.0 745.9,541.4 L745.9,544.6 Z" fill="#fff" stroke="none"/>
<polyline points="117.4,543.7 243.9,543.2 284.9,542.8 316.4,542.3 317.1,542.4 318.4,542.8 318.9,542.3 319.9,540.2 320.1,540.0 320.6,539.8 322.9,540.5 324.9,540.6 346.4,540.0 363.6,539.1 373.6,538.3 382.1,537.4 389.1,536.3 394.9,535.0 398.1,534.0 400.9,532.9 403.1,531.7 404.9,530.4 406.4,528.9 407.6,527.2 408.9,524.8 409.9,522.3 410.9,519.1 411.6,516.2 413.4,507.4 414.9,497.6 417.9,475.0 419.1,467.2 420.1,463.1 420.6,462.1 421.1,461.8 421.6,462.2 422.1,463.3 423.1,467.3 424.1,473.2 426.6,490.3 428.1,499.6 429.6,506.8 430.4,509.6 431.4,512.5 432.1,514.2 433.1,515.9 434.1,516.9 435.4,517.6 436.6,517.7 438.1,517.5 439.9,516.6 441.6,515.4 443.4,513.9 445.1,512.0 446.9,509.8 448.6,507.3 450.4,504.4 451.9,501.5 454.9,494.9 457.4,488.1 459.6,480.3 461.4,472.1 462.9,462.5 463.9,454.0 464.9,443.2 465.9,429.9 466.9,413.5 468.6,377.9 471.9,301.8 473.1,278.3 473.9,268.3 474.4,263.6 474.9,260.8 475.1,260.1 475.4,259.8 475.6,260.1 475.9,260.8 476.4,263.7 476.9,268.3 477.6,278.4 478.9,301.9 482.1,378.2 483.9,413.8 484.9,430.2 485.9,443.6 486.9,454.4 487.9,463.0 489.4,472.7 490.9,479.9 492.9,487.2 495.6,495.2 498.6,502.3 500.4,505.8 502.1,508.9 503.9,511.7 505.6,514.2 507.6,516.7 509.6,519.0 511.6,520.9 513.9,522.9 516.1,524.6 518.6,526.3 521.1,527.7 523.9,529.1 529.6,531.4 536.4,533.4 543.9,535.1 552.6,536.5 562.9,537.7 574.4,538.6 587.9,539.3 603.9,539.9 622.6,540.4 672.1,541.0 745.9,541.4" fill="none" stroke="#000" stroke-width="1.9" stroke-linejoin="round"/>
<line x1="119.1" y1="563.75" x2="749.4" y2="563.75" stroke="#000" stroke-width="1.6"/>
<line x1="119.90" y1="563.75" x2="119.90" y2="570.55" stroke="#000" stroke-width="1.6"/>
<line x1="132.47" y1="563.75" x2="132.47" y2="566.95" stroke="#000" stroke-width="1.6"/>
<line x1="145.05" y1="563.75" x2="145.05" y2="566.95" stroke="#000" stroke-width="1.6"/>
<line x1="157.62" y1="563.75" x2="157.62" y2="566.95" stroke="#000" stroke-width="1.6"/>
<line x1="170.20" y1="563.75" x2="170.20" y2="566.95" stroke="#000" stroke-width="1.6"/>
<line x1="182.77" y1="563.75" x2="182.77" y2="570.55" stroke="#000" stroke-width="1.6"/>
<line x1="195.34" y1="563.75" x2="195.34" y2="566.95" stroke="#000" stroke-width="1.6"/>
<line x1="207.92" y1="563.75" x2="207.92" y2="566.95" stroke="#000" stroke-width="1.6"/>
<line x1="220.49" y1="563.75" x2="220.49" y2="566.95" stroke="#000" stroke-width="1.6"/>
<line x1="233.07" y1="563.75" x2="233.07" y2="566.95" stroke="#000" stroke-width="1.6"/>
<line x1="245.64" y1="563.75" x2="245.64" y2="570.55" stroke="#000" stroke-width="1.6"/>
<line x1="258.21" y1="563.75" x2="258.21" y2="566.95" stroke="#000" stroke-width="1.6"/>
<line x1="270.79" y1="563.75" x2="270.79" y2="566.95" stroke="#000" stroke-width="1.6"/>
<line x1="283.36" y1="563.75" x2="283.36" y2="566.95" stroke="#000" stroke-width="1.6"/>
<line x1="295.94" y1="563.75" x2="295.94" y2="566.95" stroke="#000" stroke-width="1.6"/>
<line x1="308.51" y1="563.75" x2="308.51" y2="570.55" stroke="#000" stroke-width="1.6"/>
<line x1="321.08" y1="563.75" x2="321.08" y2="566.95" stroke="#000" stroke-width="1.6"/>
<line x1="333.66" y1="563.75" x2="333.66" y2="566.95" stroke="#000" stroke-width="1.6"/>
<line x1="346.23" y1="563.75" x2="346.23" y2="566.95" stroke="#000" stroke-width="1.6"/>
<line x1="358.81" y1="563.75" x2="358.81" y2="566.95" stroke="#000" stroke-width="1.6"/>
<line x1="371.38" y1="563.75" x2="371.38" y2="570.55" stroke="#000" stroke-width="1.6"/>
<line x1="383.95" y1="563.75" x2="383.95" y2="566.95" stroke="#000" stroke-width="1.6"/>
<line x1="396.53" y1="563.75" x2="396.53" y2="566.95" stroke="#000" stroke-width="1.6"/>
<line x1="409.10" y1="563.75" x2="409.10" y2="566.95" stroke="#000" stroke-width="1.6"/>
<line x1="421.68" y1="563.75" x2="421.68" y2="566.95" stroke="#000" stroke-width="1.6"/>
<line x1="434.25" y1="563.75" x2="434.25" y2="570.55" stroke="#000" stroke-width="1.6"/>
<line x1="446.82" y1="563.75" x2="446.82" y2="566.95" stroke="#000" stroke-width="1.6"/>
<line x1="459.40" y1="563.75" x2="459.40" y2="566.95" stroke="#000" stroke-width="1.6"/>
<line x1="471.97" y1="563.75" x2="471.97" y2="566.95" stroke="#000" stroke-width="1.6"/>
<line x1="484.55" y1="563.75" x2="484.55" y2="566.95" stroke="#000" stroke-width="1.6"/>
<line x1="497.12" y1="563.75" x2="497.12" y2="570.55" stroke="#000" stroke-width="1.6"/>
<line x1="509.69" y1="563.75" x2="509.69" y2="566.95" stroke="#000" stroke-width="1.6"/>
<line x1="522.27" y1="563.75" x2="522.27" y2="566.95" stroke="#000" stroke-width="1.6"/>
<line x1="534.84" y1="563.75" x2="534.84" y2="566.95" stroke="#000" stroke-width="1.6"/>
<line x1="547.42" y1="563.75" x2="547.42" y2="566.95" stroke="#000" stroke-width="1.6"/>
<line x1="559.99" y1="563.75" x2="559.99" y2="570.55" stroke="#000" stroke-width="1.6"/>
<line x1="572.56" y1="563.75" x2="572.56" y2="566.95" stroke="#000" stroke-width="1.6"/>
<line x1="585.14" y1="563.75" x2="585.14" y2="566.95" stroke="#000" stroke-width="1.6"/>
<line x1="597.71" y1="563.75" x2="597.71" y2="566.95" stroke="#000" stroke-width="1.6"/>
<line x1="610.29" y1="563.75" x2="610.29" y2="566.95" stroke="#000" stroke-width="1.6"/>
<line x1="622.86" y1="563.75" x2="622.86" y2="570.55" stroke="#000" stroke-width="1.6"/>
<line x1="635.43" y1="563.75" x2="635.43" y2="566.95" stroke="#000" stroke-width="1.6"/>
<line x1="648.01" y1="563.75" x2="648.01" y2="566.95" stroke="#000" stroke-width="1.6"/>
<line x1="660.58" y1="563.75" x2="660.58" y2="566.95" stroke="#000" stroke-width="1.6"/>
<line x1="673.16" y1="563.75" x2="673.16" y2="566.95" stroke="#000" stroke-width="1.6"/>
<line x1="685.73" y1="563.75" x2="685.73" y2="570.55" stroke="#000" stroke-width="1.6"/>
<line x1="698.30" y1="563.75" x2="698.30" y2="566.95" stroke="#000" stroke-width="1.6"/>
<line x1="710.88" y1="563.75" x2="710.88" y2="566.95" stroke="#000" stroke-width="1.6"/>
<line x1="723.45" y1="563.75" x2="723.45" y2="566.95" stroke="#000" stroke-width="1.6"/>
<line x1="736.03" y1="563.75" x2="736.03" y2="566.95" stroke="#000" stroke-width="1.6"/>
<line x1="748.60" y1="563.75" x2="748.60" y2="570.55" stroke="#000" stroke-width="1.6"/>
<text x="119.9" y="591" font-size="20" font-weight="bold" text-anchor="middle">5</text>
<text x="182.8" y="591" font-size="20" font-weight="bold" text-anchor="middle">4</text>
<text x="245.6" y="591" font-size="20" font-weight="bold" text-anchor="middle">3</text>
<text x="308.5" y="591" font-size="20" font-weight="bold" text-anchor="middle">2</text>
<text x="371.4" y="591" font-size="20" font-weight="bold" text-anchor="middle">1</text>
<text x="434.2" y="591" font-size="20" font-weight="bold" text-anchor="middle">0</text>
<text x="497.1" y="591" font-size="20" font-weight="bold" text-anchor="middle">-1</text>
<text x="560.0" y="591" font-size="20" font-weight="bold" text-anchor="middle">-2</text>
<text x="622.9" y="591" font-size="20" font-weight="bold" text-anchor="middle">-3</text>
<text x="685.7" y="591" font-size="20" font-weight="bold" text-anchor="middle">-4</text>
<text x="748.6" y="591" font-size="20" font-weight="bold" text-anchor="middle">-5</text>
<text x="432.8" y="625" font-size="19.5" font-weight="bold" text-anchor="middle">Chemical Shift, ppm</text>
<text x="5.5" y="23.6" font-size="24" font-weight="bold">A</text>
<text x="327.5" y="17" font-size="21.5" font-weight="bold">DOPC</text>
<text x="38.5" y="284.6" font-size="21.5" font-weight="bold">DOPA</text>
<text x="643" y="283.4" font-size="16" font-weight="bold">pH</text>
<text x="633.3" y="310.9" font-size="14.4" font-weight="bold">10.220</text>
<text x="644.4" y="330.0" font-size="14.4" font-weight="bold">9.610</text>
<text x="652.7" y="352.4" font-size="14.4" font-weight="bold">9.295</text>
<text x="661.8" y="371.0" font-size="14.4" font-weight="bold">9.085</text>
<text x="673.4" y="390.8" font-size="14.4" font-weight="bold">8.550</text>
<text x="681.3" y="410.2" font-size="14.4" font-weight="bold">7.990</text>
<text x="692.1" y="430.9" font-size="14.4" font-weight="bold">7.510</text>
<text x="702.7" y="449.7" font-size="14.4" font-weight="bold">7.010</text>
<text x="712.5" y="468.9" font-size="14.4" font-weight="bold">6.705</text>
<text x="723.6" y="488.2" font-size="14.4" font-weight="bold">6.050</text>
<text x="730.5" y="509.6" font-size="14.4" font-weight="bold">5.700</text>
<text x="741.3" y="527.6" font-size="14.4" font-weight="bold">5.150</text>
<text x="750.0" y="549.6" font-size="14.4" font-weight="bold">4.625</text>
<text x="6.5" y="679.7" font-size="23.5" font-weight="bold">B</text>
<rect x="43.7" y="691.4" width="316.6" height="373.4" fill="none" stroke="#000" stroke-width="1.8"/>
<line x1="43.70" y1="1064.8" x2="43.70" y2="1068.80" stroke="#000" stroke-width="1.6"/>
<text x="43.7" y="1088.2" font-size="14.5" text-anchor="middle">4</text>
<line x1="88.93" y1="1064.8" x2="88.93" y2="1068.80" stroke="#000" stroke-width="1.6"/>
<text x="88.9" y="1088.2" font-size="14.5" text-anchor="middle">5</text>
<line x1="134.16" y1="1064.8" x2="134.16" y2="1068.80" stroke="#000" stroke-width="1.6"/>
<text x="134.2" y="1088.2" font-size="14.5" text-anchor="middle">6</text>
<line x1="179.39" y1="1064.8" x2="179.39" y2="1068.80" stroke="#000" stroke-width="1.6"/>
<text x="179.4" y="1088.2" font-size="14.5" text-anchor="middle">7</text>
<line x1="224.61" y1="1064.8" x2="224.61" y2="1068.80" stroke="#000" stroke-width="1.6"/>
<text x="224.6" y="1088.2" font-size="14.5" text-anchor="middle">8</text>
<line x1="269.84" y1="1064.8" x2="269.84" y2="1068.80" stroke="#000" stroke-width="1.6"/>
<text x="269.8" y="1088.2" font-size="14.5" text-anchor="middle">9</text>
<line x1="315.07" y1="1064.8" x2="315.07" y2="1068.80" stroke="#000" stroke-width="1.6"/>
<text x="315.1" y="1088.2" font-size="14.5" text-anchor="middle">10</text>
<line x1="360.30" y1="1064.8" x2="360.30" y2="1068.80" stroke="#000" stroke-width="1.6"/>
<text x="360.3" y="1088.2" font-size="14.5" text-anchor="middle">11</text>
<line x1="39.70" y1="1027.46" x2="43.7" y2="1027.46" stroke="#000" stroke-width="1.6"/>
<text x="33.4" y="1032.5" font-size="14.5" text-anchor="end">0</text>
<line x1="39.70" y1="952.78" x2="43.7" y2="952.78" stroke="#000" stroke-width="1.6"/>
<text x="33.4" y="957.8" font-size="14.5" text-anchor="end">1</text>
<line x1="39.70" y1="878.10" x2="43.7" y2="878.10" stroke="#000" stroke-width="1.6"/>
<text x="33.4" y="883.1" font-size="14.5" text-anchor="end">2</text>
<line x1="39.70" y1="803.42" x2="43.7" y2="803.42" stroke="#000" stroke-width="1.6"/>
<text x="33.4" y="808.4" font-size="14.5" text-anchor="end">3</text>
<line x1="39.70" y1="728.74" x2="43.7" y2="728.74" stroke="#000" stroke-width="1.6"/>
<text x="33.4" y="733.7" font-size="14.5" text-anchor="end">4</text>
<text x="201.9" y="1112.7" font-size="16" text-anchor="middle">pH</text>
<text transform="translate(15,878.4) rotate(-90)" font-size="15.75" text-anchor="middle">Chemical shift, ppm</text>
<polyline points="78.5,1011.0 79.8,1011.0 81.1,1010.9 82.4,1010.9 83.7,1010.9 84.9,1010.9 86.2,1010.9 87.5,1010.8 88.8,1010.8 90.1,1010.8 91.4,1010.8 92.7,1010.7 93.9,1010.7 95.2,1010.7 96.5,1010.6 97.8,1010.6 99.1,1010.6 100.4,1010.5 101.6,1010.5 102.9,1010.4 104.2,1010.4 105.5,1010.3 106.8,1010.3 108.1,1010.2 109.3,1010.2 110.6,1010.1 111.9,1010.0 113.2,1009.9 114.5,1009.8 115.8,1009.8 117.0,1009.7 118.3,1009.6 119.6,1009.5 120.9,1009.3 122.2,1009.2 123.5,1009.1 124.8,1008.9 126.0,1008.8 127.3,1008.6 128.6,1008.5 129.9,1008.3 131.2,1008.1 132.5,1007.9 133.7,1007.7 135.0,1007.4 136.3,1007.2 137.6,1006.9 138.9,1006.6 140.2,1006.3 141.4,1006.0 142.7,1005.7 144.0,1005.3 145.3,1004.9 146.6,1004.5 147.9,1004.1 149.2,1003.6 150.4,1003.1 151.7,1002.6 153.0,1002.0 154.3,1001.4 155.6,1000.8 156.9,1000.1 158.1,999.4 159.4,998.6 160.7,997.8 162.0,997.0 163.3,996.0 164.6,995.1 165.8,994.1 167.1,993.0 168.4,991.9 169.7,990.6 171.0,989.4 172.3,988.0 173.6,986.6 174.8,985.1 176.1,983.5 177.4,981.9 178.7,980.1 180.0,978.3 181.3,976.3 182.5,974.3 183.8,972.2 185.1,969.9 186.4,967.6 187.7,965.2 189.0,962.6 190.2,960.0 191.5,957.2 192.8,954.3 194.1,951.3 195.4,948.2 196.7,945.0 197.9,941.7 199.2,938.3 200.5,934.8 201.8,931.2 203.1,927.4 204.4,923.6 205.7,919.7 206.9,915.7 208.2,911.7 209.5,907.6 210.8,903.4 212.1,899.1 213.4,894.8 214.6,890.5 215.9,886.1 217.2,881.8 218.5,877.4 219.8,873.0 221.1,868.6 222.3,864.2 223.6,859.9 224.9,855.6 226.2,851.3 227.5,847.1 228.8,843.0 230.1,838.9 231.3,834.9 232.6,831.0 233.9,827.2 235.2,823.4 236.5,819.8 237.8,816.2 239.0,812.8 240.3,809.4 241.6,806.2 242.9,803.1 244.2,800.1 245.5,797.2 246.7,794.4 248.0,791.7 249.3,789.1 250.6,786.7 251.9,784.3 253.2,782.1 254.5,779.9 255.7,777.9 257.0,775.9 258.3,774.0 259.6,772.3 260.9,770.6 262.2,769.0 263.4,767.5 264.7,766.0 266.0,764.7 267.3,763.4 268.6,762.2 269.9,761.0 271.1,759.9 272.4,758.9 273.7,757.9 275.0,757.0 276.3,756.1 277.6,755.3 278.8,754.5 280.1,753.8 281.4,753.1 282.7,752.5 284.0,751.9 285.3,751.3 286.6,750.8 287.8,750.3 289.1,749.8 290.4,749.3 291.7,748.9 293.0,748.5 294.3,748.2 295.5,747.8 296.8,747.5 298.1,747.2 299.4,746.9 300.7,746.6 302.0,746.4 303.2,746.1 304.5,745.9 305.8,745.7 307.1,745.5 308.4,745.3 309.7,745.1 311.0,745.0 312.2,744.8 313.5,744.7 314.8,744.6 316.1,744.4 317.4,744.3 318.7,744.2 319.9,744.1 321.2,744.0 322.5,743.9 323.8,743.8 325.1,743.7 326.4,743.7 327.6,743.6 328.9,743.5 330.2,743.5 331.5,743.4 332.8,743.4 334.1,743.3" fill="none" stroke="#000" stroke-width="2"/>
<rect x="76.2" y="1013.4" width="5.6" height="5.6" fill="#000"/>
<rect x="102.8" y="1011.8" width="5.6" height="5.6" fill="#000"/>
<rect x="123.6" y="1010.0" width="5.6" height="5.6" fill="#000"/>
<rect x="150.8" y="1001.1" width="5.6" height="5.6" fill="#000"/>
<rect x="151.4" y="994.7" width="5.6" height="5.6" fill="#000"/>
<rect x="171.3" y="981.5" width="5.6" height="5.6" fill="#000"/>
<rect x="178.8" y="983.3" width="5.6" height="5.6" fill="#000"/>
<rect x="190.9" y="950.7" width="5.6" height="5.6" fill="#000"/>
<rect x="199.4" y="915.8" width="5.6" height="5.6" fill="#000"/>
<rect x="221.9" y="872.3" width="5.6" height="5.6" fill="#000"/>
<rect x="223.6" y="837.9" width="5.6" height="5.6" fill="#000"/>
<rect x="235.7" y="804.4" width="5.6" height="5.6" fill="#000"/>
<rect x="257.6" y="793.2" width="5.6" height="5.6" fill="#000"/>
<rect x="275.9" y="751.7" width="5.6" height="5.6" fill="#000"/>
<rect x="284.8" y="744.6" width="5.6" height="5.6" fill="#000"/>
<rect x="303.1" y="736.5" width="5.6" height="5.6" fill="#000"/>
<rect x="330.2" y="733.4" width="5.6" height="5.6" fill="#000"/>
<polyline points="70.4,1011.0 71.7,1011.0 72.9,1011.0 74.2,1011.0 75.5,1011.0 76.8,1011.0 78.1,1011.0 79.3,1011.0 80.6,1010.9 81.9,1010.9 83.2,1010.9 84.5,1010.9 85.7,1010.9 87.0,1010.8 88.3,1010.8 89.6,1010.8 90.9,1010.8 92.1,1010.7 93.4,1010.7 94.7,1010.7 96.0,1010.6 97.3,1010.6 98.5,1010.6 99.8,1010.5 101.1,1010.5 102.4,1010.4 103.7,1010.4 104.9,1010.3 106.2,1010.3 107.5,1010.2 108.8,1010.2 110.1,1010.1 111.3,1010.0 112.6,1009.9 113.9,1009.9 115.2,1009.8 116.4,1009.7 117.7,1009.6 119.0,1009.5 120.3,1009.4 121.6,1009.2 122.8,1009.1 124.1,1009.0 125.4,1008.8 126.7,1008.7 128.0,1008.5 129.2,1008.3 130.5,1008.1 131.8,1007.9 133.1,1007.7 134.4,1007.5 135.6,1007.2 136.9,1007.0 138.2,1006.7 139.5,1006.4 140.8,1006.1 142.0,1005.7 143.3,1005.4 144.6,1005.0 145.9,1004.6 147.2,1004.2 148.4,1003.7 149.7,1003.2 151.0,1002.7 152.3,1002.1 153.6,1001.6 154.8,1000.9 156.1,1000.3 157.4,999.6 158.7,998.8 160.0,998.0 161.2,997.2 162.5,996.3 163.8,995.4 165.1,994.4 166.4,993.3 167.6,992.2 168.9,991.0 170.2,989.8 171.5,988.5 172.8,987.1 174.0,985.6 175.3,984.1 176.6,982.4 177.9,980.7 179.1,978.9 180.4,977.1 181.7,975.1 183.0,973.0 184.3,970.8 185.5,968.5 186.8,966.2 188.1,963.7 189.4,961.1 190.7,958.4 191.9,955.6 193.2,952.7 194.5,949.6 195.8,946.5 197.1,943.3 198.3,939.9 199.6,936.5 200.9,933.0 202.2,929.3 203.5,925.6 204.7,921.8 206.0,917.9 207.3,914.0 208.6,909.9 209.9,905.8 211.1,901.7 212.4,897.5 213.7,893.3 215.0,889.0 216.3,884.7 217.5,880.4 218.8,876.1 220.1,871.8 221.4,867.6 222.7,863.3 223.9,859.1 225.2,854.9 226.5,850.8 227.8,846.8 229.1,842.8 230.3,838.8 231.6,835.0 232.9,831.2 234.2,827.5 235.5,823.9 236.7,820.4 238.0,817.1 239.3,813.8 240.6,810.6 241.8,807.5 243.1,804.5 244.4,801.7 245.7,798.9 247.0,796.3 248.2,793.7 249.5,791.3 250.8,789.0 252.1,786.7 253.4,784.6 254.6,782.6 255.9,780.6 257.2,778.8 258.5,777.0 259.8,775.4 261.0,773.8 262.3,772.3 263.6,770.8 264.9,769.5 266.2,768.2 267.4,767.0 268.7,765.8 270.0,764.8 271.3,763.7 272.6,762.8 273.8,761.8 275.1,761.0 276.4,760.2 277.7,759.4 279.0,758.7 280.2,758.0 281.5,757.4 282.8,756.7 284.1,756.2 285.4,755.6 286.6,755.1 287.9,754.7 289.2,754.2 290.5,753.8 291.8,753.4 293.0,753.0 294.3,752.7 295.6,752.4 296.9,752.1 298.2,751.8 299.4,751.5 300.7,751.2 302.0,751.0 303.3,750.8 304.5,750.6 305.8,750.4 307.1,750.2 308.4,750.0 309.7,749.9 310.9,749.7 312.2,749.6 313.5,749.4 314.8,749.3 316.1,749.2 317.3,749.1 318.6,749.0 319.9,748.9 321.2,748.8 322.5,748.7 323.7,748.6 325.0,748.5" fill="none" stroke="#f00" stroke-width="2"/>
<path d="M71.4,1010.8 L74.7,1016.6 L68.1,1016.6 Z" fill="#f00"/>
<path d="M95.6,1008.2 L98.9,1014.0 L92.3,1014.0 Z" fill="#f00"/>
<path d="M120.7,1007.1 L124.0,1012.9 L117.4,1012.9 Z" fill="#f00"/>
<path d="M136.0,999.1 L139.3,1004.9 L132.7,1004.9 Z" fill="#f00"/>
<path d="M166.3,990.0 L169.6,995.8 L163.0,995.8 Z" fill="#f00"/>
<path d="M180.0,980.4 L183.3,986.2 L176.7,986.2 Z" fill="#f00"/>
<path d="M202.5,913.9 L205.8,919.7 L199.2,919.7 Z" fill="#f00"/>
<path d="M223.9,862.2 L227.2,868.0 L220.6,868.0 Z" fill="#f00"/>
<path d="M249.7,781.9 L253.0,787.7 L246.4,787.7 Z" fill="#f00"/>
<path d="M273.4,774.8 L276.7,780.6 L270.1,780.6 Z" fill="#f00"/>
<path d="M282.7,766.7 L286.0,772.5 L279.4,772.5 Z" fill="#f00"/>
<path d="M296.9,741.6 L300.2,747.4 L293.6,747.4 Z" fill="#f00"/>
<path d="M324.7,726.7 L328.0,732.5 L321.4,732.5 Z" fill="#f00"/>
<rect x="185.5" y="946.4" width="5.6" height="5.6" fill="#00f"/>
<circle cx="188.3" cy="949.2" r="3" fill="#00f"/>
<line x1="56.4" y1="707.2" x2="89.9" y2="707.2" stroke="#000" stroke-width="2"/>
<line x1="56.4" y1="722.9" x2="89.9" y2="722.9" stroke="#f00" stroke-width="2"/>
<circle cx="73.1" cy="738.8" r="3" fill="#00f"/>
<text x="97.6" y="711.6" font-size="14">10% PA in PC</text>
<text x="97.6" y="727.4" font-size="14">10% PA in 30% Chol and 60% PC</text>
<text x="97.2" y="743.2" font-size="14">pH 7.2, 30% Cholesterol</text>
<text x="401.5" y="694" font-size="23.5" font-weight="bold">C</text>
<rect x="464.2" y="695.7" width="321.8" height="370.3" fill="none" stroke="#000" stroke-width="1.8"/>
<line x1="485.65" y1="1066.0" x2="485.65" y2="1069.50" stroke="#000" stroke-width="1.6"/>
<text x="485.7" y="1089.4" font-size="14.5" text-anchor="middle">4</text>
<line x1="528.56" y1="1066.0" x2="528.56" y2="1069.50" stroke="#000" stroke-width="1.6"/>
<line x1="571.47" y1="1066.0" x2="571.47" y2="1069.50" stroke="#000" stroke-width="1.6"/>
<text x="571.5" y="1089.4" font-size="14.5" text-anchor="middle">6</text>
<line x1="614.37" y1="1066.0" x2="614.37" y2="1069.50" stroke="#000" stroke-width="1.6"/>
<line x1="657.28" y1="1066.0" x2="657.28" y2="1069.50" stroke="#000" stroke-width="1.6"/>
<text x="657.3" y="1089.4" font-size="14.5" text-anchor="middle">8</text>
<line x1="700.19" y1="1066.0" x2="700.19" y2="1069.50" stroke="#000" stroke-width="1.6"/>
<line x1="743.09" y1="1066.0" x2="743.09" y2="1069.50" stroke="#000" stroke-width="1.6"/>
<text x="743.1" y="1089.4" font-size="14.5" text-anchor="middle">10</text>
<line x1="786.00" y1="1066.0" x2="786.00" y2="1069.50" stroke="#000" stroke-width="1.6"/>
<line x1="460.20" y1="1066.00" x2="464.2" y2="1066.00" stroke="#000" stroke-width="1.6"/>
<text x="453.9" y="1071.0" font-size="14.5" text-anchor="end">-0.2</text>
<line x1="460.20" y1="1019.71" x2="464.2" y2="1019.71" stroke="#000" stroke-width="1.6"/>
<text x="453.9" y="1024.7" font-size="14.5" text-anchor="end">0.0</text>
<line x1="460.20" y1="973.43" x2="464.2" y2="973.43" stroke="#000" stroke-width="1.6"/>
<text x="453.9" y="978.4" font-size="14.5" text-anchor="end">0.2</text>
<line x1="460.20" y1="927.14" x2="464.2" y2="927.14" stroke="#000" stroke-width="1.6"/>
<text x="453.9" y="932.1" font-size="14.5" text-anchor="end">0.4</text>
<line x1="460.20" y1="880.85" x2="464.2" y2="880.85" stroke="#000" stroke-width="1.6"/>
<text x="453.9" y="885.9" font-size="14.5" text-anchor="end">0.6</text>
<line x1="460.20" y1="834.56" x2="464.2" y2="834.56" stroke="#000" stroke-width="1.6"/>
<text x="453.9" y="839.6" font-size="14.5" text-anchor="end">0.8</text>
<line x1="460.20" y1="788.28" x2="464.2" y2="788.28" stroke="#000" stroke-width="1.6"/>
<text x="453.9" y="793.3" font-size="14.5" text-anchor="end">1.0</text>
<line x1="460.20" y1="741.99" x2="464.2" y2="741.99" stroke="#000" stroke-width="1.6"/>
<text x="453.9" y="747.0" font-size="14.5" text-anchor="end">1.2</text>
<line x1="460.20" y1="695.70" x2="464.2" y2="695.70" stroke="#000" stroke-width="1.6"/>
<text x="453.9" y="700.7" font-size="14.5" text-anchor="end">1.4</text>
<text x="625.3" y="1112.5" font-size="16" text-anchor="middle">pH</text>
<text transform="translate(405.6,885.3) rotate(-90)" font-size="14">f<tspan font-size="8.7" dy="4.6">p</tspan></text>
<polyline points="519.1,785.8 520.3,785.8 521.5,785.8 522.8,785.8 524.0,785.8 525.2,785.9 526.4,785.9 527.6,785.9 528.8,785.9 530.0,785.9 531.3,786.0 532.5,786.0 533.7,786.0 534.9,786.0 536.1,786.1 537.3,786.1 538.5,786.1 539.8,786.2 541.0,786.2 542.2,786.3 543.4,786.3 544.6,786.3 545.8,786.4 547.0,786.5 548.3,786.5 549.5,786.6 550.7,786.6 551.9,786.7 553.1,786.8 554.3,786.9 555.5,787.0 556.8,787.0 558.0,787.1 559.2,787.2 560.4,787.4 561.6,787.5 562.8,787.6 564.0,787.7 565.2,787.9 566.5,788.0 567.7,788.2 568.9,788.4 570.1,788.5 571.3,788.7 572.5,788.9 573.7,789.2 575.0,789.4 576.2,789.7 577.4,789.9 578.6,790.2 579.8,790.5 581.0,790.8 582.2,791.2 583.5,791.6 584.7,791.9 585.9,792.4 587.1,792.8 588.3,793.3 589.5,793.8 590.7,794.3 592.0,794.9 593.2,795.5 594.4,796.1 595.6,796.8 596.8,797.5 598.0,798.2 599.2,799.0 600.5,799.9 601.7,800.8 602.9,801.7 604.1,802.8 605.3,803.8 606.5,804.9 607.7,806.1 608.9,807.4 610.2,808.7 611.4,810.1 612.6,811.6 613.8,813.1 615.0,814.7 616.2,816.4 617.4,818.2 618.7,820.1 619.9,822.1 621.1,824.1 622.3,826.3 623.5,828.5 624.7,830.8 625.9,833.2 627.2,835.8 628.4,838.4 629.6,841.1 630.8,843.9 632.0,846.8 633.2,849.8 634.4,852.8 635.7,856.0 636.9,859.2 638.1,862.6 639.3,866.0 640.5,869.4 641.7,873.0 642.9,876.6 644.2,880.2 645.4,883.9 646.6,887.6 647.8,891.4 649.0,895.2 650.2,899.0 651.4,902.8 652.6,906.6 653.9,910.4 655.1,914.1 656.3,917.9 657.5,921.6 658.7,925.3 659.9,928.9 661.1,932.5 662.4,936.0 663.6,939.5 664.8,942.9 666.0,946.2 667.2,949.4 668.4,952.5 669.6,955.6 670.9,958.6 672.1,961.4 673.3,964.2 674.5,966.9 675.7,969.5 676.9,972.0 678.1,974.4 679.4,976.7 680.6,978.9 681.8,981.1 683.0,983.1 684.2,985.0 685.4,986.9 686.6,988.7 687.9,990.4 689.1,992.0 690.3,993.5 691.5,994.9 692.7,996.3 693.9,997.6 695.1,998.9 696.3,1000.0 697.6,1001.2 698.8,1002.2 700.0,1003.2 701.2,1004.2 702.4,1005.0 703.6,1005.9 704.8,1006.7 706.1,1007.4 707.3,1008.1 708.5,1008.8 709.7,1009.4 710.9,1010.0 712.1,1010.6 713.3,1011.1 714.6,1011.6 715.8,1012.1 717.0,1012.5 718.2,1012.9 719.4,1013.3 720.6,1013.7 721.8,1014.0 723.1,1014.3 724.3,1014.6 725.5,1014.9 726.7,1015.2 727.9,1015.4 729.1,1015.6 730.3,1015.9 731.6,1016.1 732.8,1016.3 734.0,1016.4 735.2,1016.6 736.4,1016.8 737.6,1016.9 738.8,1017.1 740.0,1017.2 741.3,1017.3 742.5,1017.4 743.7,1017.5 744.9,1017.7 746.1,1017.7 747.3,1017.8 748.5,1017.9 749.8,1018.0 751.0,1018.1 752.2,1018.1 753.4,1018.2 754.6,1018.3 755.8,1018.3 757.0,1018.4 758.3,1018.4 759.5,1018.5 760.7,1018.5" fill="none" stroke="#000" stroke-width="2"/>
<circle cx="519.2" cy="784.5" r="3" fill="#000"/>
<circle cx="544.4" cy="786.3" r="3" fill="#000"/>
<circle cx="564.2" cy="787.7" r="3" fill="#000"/>
<circle cx="590.1" cy="795.4" r="3" fill="#000"/>
<circle cx="590.5" cy="801.9" r="3" fill="#000"/>
<circle cx="610" cy="812.6" r="3" fill="#000"/>
<circle cx="616.2" cy="810.8" r="3" fill="#000"/>
<circle cx="628.1" cy="838.3" r="3" fill="#000"/>
<circle cx="657.2" cy="906.3" r="3" fill="#000"/>
<circle cx="659" cy="935.8" r="3" fill="#000"/>
<circle cx="670.4" cy="964.1" r="3" fill="#000"/>
<circle cx="691.5" cy="973.7" r="3" fill="#000"/>
<circle cx="708.5" cy="1008.8" r="3" fill="#000"/>
<circle cx="717.1" cy="1015.4" r="3" fill="#000"/>
<circle cx="734.4" cy="1022.5" r="3" fill="#000"/>
<circle cx="759.5" cy="1024.9" r="3" fill="#000"/>
<polyline points="511.8,787.4 513.0,787.4 514.2,787.4 515.5,787.4 516.7,787.4 517.9,787.4 519.1,787.4 520.3,787.5 521.5,787.5 522.7,787.5 523.9,787.5 525.2,787.5 526.4,787.5 527.6,787.6 528.8,787.6 530.0,787.6 531.2,787.7 532.4,787.7 533.6,787.7 534.8,787.7 536.1,787.8 537.3,787.8 538.5,787.9 539.7,787.9 540.9,788.0 542.1,788.0 543.3,788.1 544.5,788.1 545.8,788.2 547.0,788.2 548.2,788.3 549.4,788.4 550.6,788.4 551.8,788.5 553.0,788.6 554.2,788.7 555.4,788.8 556.7,788.9 557.9,789.0 559.1,789.1 560.3,789.3 561.5,789.4 562.7,789.5 563.9,789.7 565.1,789.8 566.4,790.0 567.6,790.2 568.8,790.4 570.0,790.6 571.2,790.8 572.4,791.0 573.6,791.3 574.8,791.5 576.0,791.8 577.3,792.1 578.5,792.4 579.7,792.7 580.9,793.1 582.1,793.4 583.3,793.8 584.5,794.3 585.7,794.7 587.0,795.2 588.2,795.7 589.4,796.2 590.6,796.7 591.8,797.3 593.0,797.9 594.2,798.6 595.4,799.3 596.6,800.0 597.9,800.8 599.1,801.6 600.3,802.5 601.5,803.4 602.7,804.4 603.9,805.4 605.1,806.5 606.3,807.6 607.6,808.8 608.8,810.1 610.0,811.4 611.2,812.8 612.4,814.3 613.6,815.8 614.8,817.4 616.0,819.1 617.2,820.8 618.5,822.7 619.7,824.6 620.9,826.6 622.1,828.7 623.3,830.9 624.5,833.1 625.7,835.5 626.9,837.9 628.2,840.4 629.4,843.0 630.6,845.7 631.8,848.5 633.0,851.3 634.2,854.3 635.4,857.3 636.6,860.4 637.8,863.5 639.1,866.8 640.3,870.0 641.5,873.4 642.7,876.8 643.9,880.3 645.1,883.7 646.3,887.3 647.5,890.8 648.8,894.4 650.0,898.0 651.2,901.6 652.4,905.3 653.6,908.9 654.8,912.5 656.0,916.0 657.2,919.6 658.4,923.1 659.7,926.6 660.9,930.0 662.1,933.4 663.3,936.7 664.5,940.0 665.7,943.2 666.9,946.4 668.1,949.4 669.4,952.4 670.6,955.3 671.8,958.1 673.0,960.9 674.2,963.6 675.4,966.1 676.6,968.6 677.8,971.0 679.0,973.3 680.3,975.6 681.5,977.7 682.7,979.8 683.9,981.7 685.1,983.6 686.3,985.4 687.5,987.2 688.7,988.8 690.0,990.4 691.2,991.9 692.4,993.3 693.6,994.7 694.8,996.0 696.0,997.2 697.2,998.4 698.4,999.5 699.6,1000.6 700.9,1001.6 702.1,1002.5 703.3,1003.4 704.5,1004.3 705.7,1005.1 706.9,1005.9 708.1,1006.6 709.3,1007.3 710.6,1007.9 711.8,1008.5 713.0,1009.1 714.2,1009.7 715.4,1010.2 716.6,1010.7 717.8,1011.1 719.0,1011.5 720.2,1012.0 721.5,1012.3 722.7,1012.7 723.9,1013.0 725.1,1013.4 726.3,1013.7 727.5,1013.9 728.7,1014.2 729.9,1014.5 731.2,1014.7 732.4,1014.9 733.6,1015.1 734.8,1015.3 736.0,1015.5 737.2,1015.7 738.4,1015.9 739.6,1016.0 740.8,1016.2 742.1,1016.3 743.3,1016.4 744.5,1016.6 745.7,1016.7 746.9,1016.8 748.1,1016.9 749.3,1017.0 750.5,1017.1 751.8,1017.2 753.0,1017.2" fill="none" stroke="#f00" stroke-width="2"/>
<circle cx="512.1" cy="787.2" r="3" fill="#f00"/>
<circle cx="534.8" cy="789.5" r="3" fill="#f00"/>
<circle cx="558.2" cy="790.8" r="3" fill="#f00"/>
<circle cx="573.1" cy="797" r="3" fill="#f00"/>
<circle cx="602" cy="803.7" r="3" fill="#f00"/>
<circle cx="614.4" cy="812.9" r="3" fill="#f00"/>
<circle cx="636.3" cy="869.4" r="3" fill="#f00"/>
<circle cx="656.7" cy="913.5" r="3" fill="#f00"/>
<circle cx="680.8" cy="982.8" r="3" fill="#f00"/>
<circle cx="703.7" cy="988.9" r="3" fill="#f00"/>
<circle cx="712.6" cy="995.7" r="3" fill="#f00"/>
<circle cx="725.8" cy="1017.5" r="3" fill="#f00"/>
<circle cx="752.3" cy="1029.3" r="3" fill="#f00"/>
<line x1="526.4" y1="719.9" x2="560.3" y2="719.9" stroke="#000" stroke-width="2"/>
<line x1="526.4" y1="735.8" x2="560.3" y2="735.8" stroke="#f00" stroke-width="2"/>
<text x="568.0" y="724.8" font-size="14.35">10% PA in PC</text>
<text x="568.0" y="740.8" font-size="14.35">10% PA in 30% Chol &amp; 60% PC</text>
</svg>
</body></html>
